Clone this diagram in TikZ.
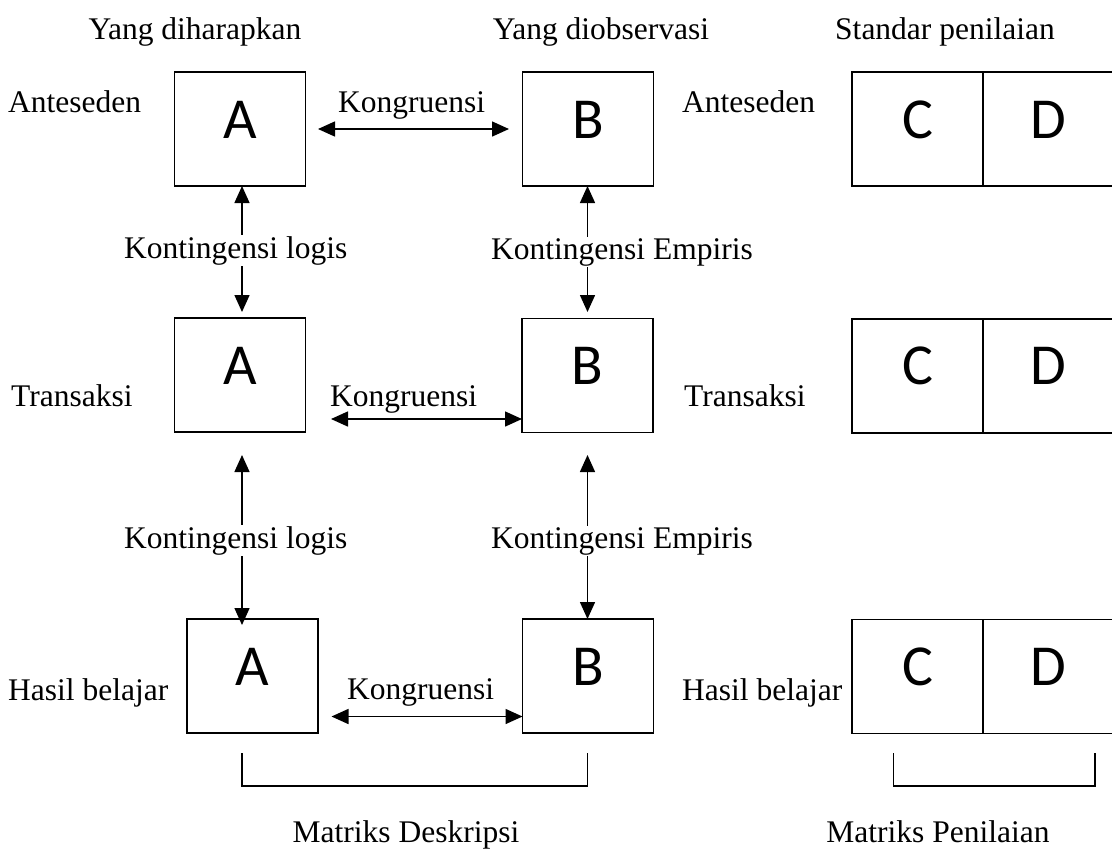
\documentclass[tikz,border=0pt]{standalone}
\usepackage{fontspec}
\setmainfont{Liberation Serif}
\newfontfamily\boxfont{Carlito}
\usetikzlibrary{arrows.meta,calc}
\begin{document}
\begin{tikzpicture}[x=1pt,y=-1pt,
  lbl/.style={font=\fontsize{31.5}{36}\selectfont, inner sep=0pt, anchor=base west},
  cut/.style={lbl, fill=white, inner sep=1pt},
  mid/.style={font=\fontsize{31.5}{36}\selectfont, inner sep=0pt, anchor=base},
  cell/.style={draw, line width=1.5pt, minimum width=131pt, minimum height=114pt, inner sep=0pt, outer sep=0pt},
  letter/.style={font=\boxfont\fontsize{58}{60}\selectfont, inner sep=0pt, anchor=base},
  conn/.style={line width=1.5pt, {Triangle[length=17pt,width=15pt]}-{Triangle[length=17pt,width=15pt]}},
  brk/.style={line width=1.4pt}]
\useasboundingbox (0,0) rectangle (1112,852);
\clip (0,0) rectangle (1112,852);

% boxes
\node[cell] (A1) at (240,129) {};
\node[cell] (B1) at (588,129) {};
\node[cell] (A2) at (240,375) {};
\node[cell] (B2) at (587.5,375.5) {};
\node[cell] (A3) at (252.5,676) {};
\node[cell] (B3) at (588,676) {};
\node[cell] (C1) at (917.5,129) {};
\node[cell] (D1) at (1048.5,129) {};
\node[cell] (C2) at (917.5,376) {};
\node[cell] (D2) at (1048.5,376) {};
\node[cell] (C3) at (917.5,676.5) {};
\node[cell] (D3) at (1048.5,676.5) {};

% letters
\node[letter] (lA1) at (240,138) {A};
\node[letter] (lB1) at (588,138) {B};
\node[letter] (lA2) at (240,384) {A};
\node[letter] (lB2) at (587.5,384) {B};
\node[letter] (lA3) at (252.5,685) {A};
\node[letter] (lB3) at (588,685) {B};
\node[letter] (lC1) at (917.5,138) {C};
\node[letter] (lD1) at (1048.5,138) {D};
\node[letter] (lC2) at (917.5,384) {C};
\node[letter] (lD2) at (1048.5,384) {D};
\node[letter] (lC3) at (917.5,685) {C};
\node[letter] (lD3) at (1048.5,685) {D};

% coordinates for connector ends
\coordinate (k1s) at (318,129);
\coordinate (k1e) at (509,129);
\coordinate (k2s) at (331,419);
\coordinate (k3s) at (331.5,716.5);
\coordinate (v1a) at (242,312);
\coordinate (v1b) at (587.5,312);
\coordinate (v2a) at (242,455);
\coordinate (v2ae) at (242,625);
\coordinate (v2b) at (587.5,455);

% horizontal connectors (Kongruensi)
\draw[conn] (k1s) -- (k1e);
\draw[conn] (k2s) -- (k2s -| B2.west);
\draw[conn] (k3s) -- (k3s -| B3.west);

% vertical connectors (Kontingensi)
\draw[conn] (v1a |- A1.south) -- (v1a);
\draw[conn] (v1b |- B1.south) -- (v1b);
\draw[conn] (v2a) -- (v2ae);
\draw[conn] (v2b) -- (v2b |- B3.north);

% brackets
\coordinate (bl1) at (242,753);
\coordinate (br1) at (587.5,753);
\coordinate (bl2) at (893.5,753);
\coordinate (br2) at (1095,753);
\draw[brk] (bl1) -- ++(0,33) -| (br1);
\draw[brk] (bl2) -- ++(0,33) -| (br2);

% headers
\node[mid] (h1) at (195,39) {Yang diharapkan};
\node[mid] (h2) at (601,39) {Yang diobservasi};
\node[mid] (h3) at (945,39) {Standar penilaian};

% row labels
\node[lbl] (r1l) at (8,112) {Anteseden};
\node[lbl] (r1r) at (682,112) {Anteseden};
\node[lbl] (r2l) at (11,406) {Transaksi};
\node[lbl] (r2r) at (684,406) {Transaksi};
\node[lbl] (r3l) at (8,700) {Hasil belajar};
\node[lbl] (r3r) at (682,700) {Hasil belajar};

% Kongruensi labels
\node[lbl] (kg1) at (338,112) {Kongruensi};
\node[lbl] (kg2) at (330,406) {Kongruensi};
\node[lbl] (kg3) at (347,699) {Kongruensi};

% Kontingensi labels
\node[cut] (kl1) at (123,258) {Kontingensi logis};
\node[cut] (ke1) at (490,259) {Kontingensi Empiris};
\node[cut] (kl2) at (123,548) {Kontingensi logis};
\node[cut] (ke2) at (490,548) {Kontingensi Empiris};

% bottom labels
\node[mid] (m1) at (406,842) {Matriks Deskripsi};
\node[mid] (m2) at (938,842) {Matriks Penilaian};
\end{tikzpicture}
\end{document}
